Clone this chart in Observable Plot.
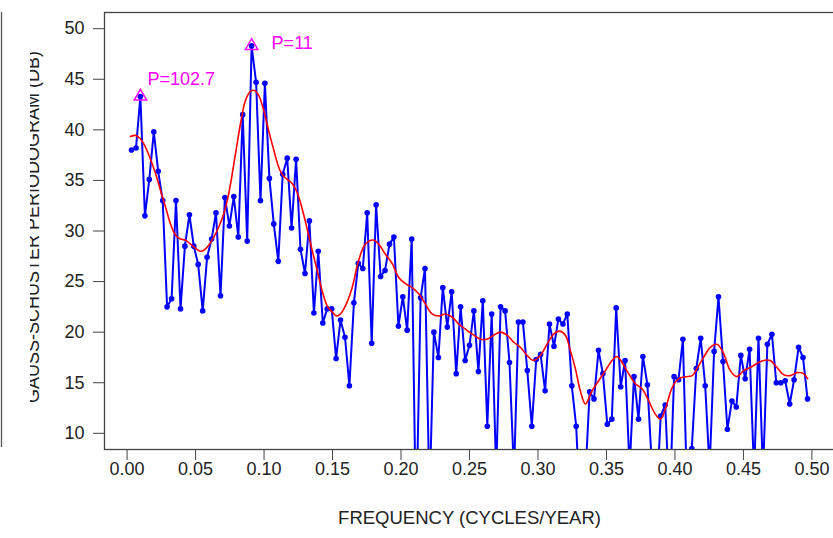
<!DOCTYPE html>
<html>
<head>
<meta charset="utf-8">
<script src="https://cdn.jsdelivr.net/npm/d3@7"></script>
<script src="https://cdn.jsdelivr.net/npm/@observablehq/plot@0.6"></script>
<style>
  html, body { margin: 0; padding: 0; background: #fff; overflow: hidden; }
  #chart svg { display: block; }
</style>
</head>
<body>
<div id="chart"></div>
<script>
// Fourier frequencies (cycles/year) of a 308-year annual series, k = 1..153
const frequency = [
  0.0032, 0.0065, 0.0097, 0.0130, 0.0162, 0.0195, 0.0227, 0.0260, 0.0292, 0.0325,
  0.0357, 0.0390, 0.0422, 0.0455, 0.0487, 0.0519, 0.0552, 0.0584, 0.0617, 0.0649,
  0.0682, 0.0714, 0.0747, 0.0779, 0.0812, 0.0844, 0.0877, 0.0909, 0.0942, 0.0974,
  0.1006, 0.1039, 0.1071, 0.1104, 0.1136, 0.1169, 0.1201, 0.1234, 0.1266, 0.1299,
  0.1331, 0.1364, 0.1396, 0.1429, 0.1461, 0.1494, 0.1526, 0.1558, 0.1591, 0.1623,
  0.1656, 0.1688, 0.1721, 0.1753, 0.1786, 0.1818, 0.1851, 0.1883, 0.1916, 0.1948,
  0.1981, 0.2013, 0.2045, 0.2078, 0.2110, 0.2143, 0.2175, 0.2208, 0.2240, 0.2273,
  0.2305, 0.2338, 0.2370, 0.2403, 0.2435, 0.2468, 0.2500, 0.2532, 0.2565, 0.2597,
  0.2630, 0.2662, 0.2695, 0.2727, 0.2760, 0.2792, 0.2825, 0.2857, 0.2890, 0.2922,
  0.2955, 0.2987, 0.3019, 0.3052, 0.3084, 0.3117, 0.3149, 0.3182, 0.3214, 0.3247,
  0.3279, 0.3312, 0.3344, 0.3377, 0.3409, 0.3442, 0.3474, 0.3506, 0.3539, 0.3571,
  0.3604, 0.3636, 0.3669, 0.3701, 0.3734, 0.3766, 0.3799, 0.3831, 0.3864, 0.3896,
  0.3929, 0.3961, 0.3994, 0.4026, 0.4058, 0.4091, 0.4123, 0.4156, 0.4188, 0.4221,
  0.4253, 0.4286, 0.4318, 0.4351, 0.4383, 0.4416, 0.4448, 0.4481, 0.4513, 0.4545,
  0.4578, 0.4610, 0.4643, 0.4675, 0.4708, 0.4740, 0.4773, 0.4805, 0.4838, 0.4870,
  0.4903, 0.4935, 0.4968
];

// Raw periodogram ordinates (dB)
const periodogramDb = [
  38.0, 38.2, 43.3, 31.5, 35.1, 39.8, 35.9, 33.0, 22.5, 23.3,
  33.0, 22.3, 28.5, 31.6, 28.5, 26.7, 22.1, 27.4, 29.2, 31.8,
  23.6, 33.3, 30.5, 33.4, 29.4, 41.5, 29.0, 48.3, 44.7, 33.0,
  44.6, 35.2, 30.7, 27.0, 35.6, 37.2, 30.3, 37.1, 28.2, 25.8,
  31.0, 21.9, 28.0, 20.9, 22.3, 22.3, 17.4, 21.2, 19.5, 14.7,
  22.9, 26.8, 26.3, 31.8, 18.9, 32.6, 25.5, 26.1, 28.7, 29.4,
  20.6, 23.5, 20.2, 29.2, 0.5, 23.4, 26.3, 3.5, 20.0, 17.5,
  24.4, 20.5, 24.0, 15.9, 22.5, 17.2, 18.7, 22.1, 16.1, 23.1,
  10.7, 21.8, 6.0, 22.5, 22.1, 17.0, 6.0, 21.0, 21.0, 16.2,
  10.7, 17.3, 17.8, 14.2, 20.8, 18.6, 21.3, 20.8, 21.8, 14.7,
  10.7, 1.0, 5.0, 14.1, 13.4, 18.2, 15.9, 10.9, 11.4, 22.4,
  14.6, 17.2, 6.5, 15.6, 11.4, 17.6, 14.8, 7.0, 3.0, 11.7,
  12.8, 3.0, 15.6, 15.3, 19.3, 3.0, 8.5, 16.4, 19.4, 14.7,
  6.5, 18.1, 23.5, 17.1, 10.4, 13.2, 12.6, 17.7, 15.4, 18.3,
  6.0, 19.4, 6.0, 18.8, 19.8, 15.0, 15.0, 15.2, 12.9, 15.3,
  18.5, 17.5, 13.4
];

// Smoothed spectrum (dB)
const smoothFrequency = [
  0.0025, 0.0061, 0.0098, 0.0134, 0.0171, 0.0207, 0.0244, 0.0280, 0.0317, 0.0353,
  0.0390, 0.0426, 0.0463, 0.0499, 0.0536, 0.0560, 0.0596, 0.0633, 0.0669, 0.0706,
  0.0742, 0.0791, 0.0828, 0.0864, 0.0901, 0.0930, 0.0961, 0.0998, 0.1034, 0.1071,
  0.1107, 0.1132, 0.1169, 0.1205, 0.1242, 0.1278, 0.1315, 0.1351, 0.1388, 0.1424,
  0.1461, 0.1497, 0.1528, 0.1558, 0.1594, 0.1643, 0.1691, 0.1740, 0.1801, 0.1837,
  0.1886, 0.1935, 0.1983, 0.2032, 0.2081, 0.2129, 0.2178, 0.2227, 0.2275, 0.2324,
  0.2373, 0.2421, 0.2470, 0.2531, 0.2580, 0.2628, 0.2677, 0.2726, 0.2774, 0.2823,
  0.2872, 0.2920, 0.2969, 0.3018, 0.3066, 0.3115, 0.3158, 0.3200, 0.3236, 0.3273,
  0.3309, 0.3346, 0.3395, 0.3443, 0.3492, 0.3541, 0.3577, 0.3614, 0.3662, 0.3711,
  0.3760, 0.3808, 0.3857, 0.3893, 0.3930, 0.3979, 0.4027, 0.4076, 0.4125, 0.4161,
  0.4209, 0.4258, 0.4307, 0.4355, 0.4404, 0.4453, 0.4501, 0.4550, 0.4599, 0.4647,
  0.4696, 0.4745, 0.4793, 0.4842, 0.4891, 0.4939, 0.4969
];
const smoothDb = [
  39.35, 39.45, 39.1, 38.3, 37.1, 35.7, 34.0, 32.4, 30.7, 29.6,
  29.2, 29.1, 28.7, 28.3, 28.0, 28.1, 28.6, 29.4, 30.4, 31.7,
  33.7, 37.6, 40.6, 42.9, 43.8, 43.9, 43.4, 41.9, 39.9, 38.0,
  36.3, 35.6, 35.1, 34.7, 33.8, 32.2, 30.2, 28.1, 26.1, 24.1,
  22.6, 22.0, 21.6, 21.8, 22.6, 24.4, 27.1, 28.7, 29.1, 28.7,
  27.7, 26.8, 25.4, 24.8, 24.4, 23.8, 22.8, 21.8, 21.6, 21.8,
  21.5, 20.8, 20.3, 19.7, 19.3, 19.3, 19.7, 20.0, 19.7, 19.0,
  18.5, 17.7, 17.2, 17.7, 18.8, 19.8, 20.1, 19.7, 18.2, 16.4,
  14.2, 12.9, 14.2, 15.2, 16.2, 17.2, 17.6, 17.0, 15.9, 14.9,
  14.4, 13.2, 11.9, 11.4, 12.4, 14.5, 15.4, 15.6, 15.7, 16.4,
  17.5, 18.5, 18.8, 17.9, 16.2, 15.6, 16.2, 16.5, 16.9, 17.2,
  17.2, 16.5, 15.8, 15.7, 16.0, 15.9, 15.4
];

// Periods (years) of the marked spectral peaks
const peakPeriods = [102.7, 11];

const xTicks = [0, 0.05, 0.10, 0.15, 0.20, 0.25, 0.30, 0.35, 0.40, 0.45, 0.50];
const yTicks = [10, 15, 20, 25, 30, 35, 40, 45, 50];
const xTitle = "FREQUENCY (CYCLES/YEAR)";
const yTitle = "GAUSS-SCHUSTER PERIODOGRAM (DB)";

const spectrum = frequency.map((f, i) => ({f, db: periodogramDb[i]}));
const smooth = smoothFrequency.map((f, i) => ({f, db: smoothDb[i]}));
const peaks = peakPeriods.map(p => {
  const i = d3.leastIndex(frequency, g => Math.abs(g - 1 / p));
  return {f: 1 / p, db: periodogramDb[i], label: `P=${p}`};
});

const font = "'Liberation Sans', Arial, Helvetica, sans-serif";
const ink = "#222";
const blue = "#0000ff";
const magenta = "#ff00ff";

const chart = Plot.plot({
  width: 833,
  height: 538,
  marginLeft: 104,
  marginRight: -1,
  marginTop: 12,
  marginBottom: 89,
  style: {fontFamily: font, fontSize: "18px", color: ink, background: "#fff"},
  x: {domain: [-0.0165, 0.5165]},
  y: {domain: [8.4, 51.6]},
  marks: [
    Plot.axisY({ticks: yTicks, tickSize: 11, tickPadding: 9, label: null, stroke: "#444", fill: ink}),
    Plot.axisX({ticks: xTicks, tickSize: 11, tickPadding: 2, tickFormat: d3.format(".2f"), label: null, stroke: "#444", fill: ink}),
    Plot.text([xTitle], {frameAnchor: "bottom", dy: 74, text: d => d, fill: ink, fontSize: 18.5}),
    Plot.text([yTitle], {frameAnchor: "left", dx: -66, dy: -4, rotate: -90, textAnchor: "middle", lineAnchor: "bottom", text: d => d, fill: ink}),
    Plot.line(spectrum, {x: "f", y: "db", stroke: blue, strokeWidth: 2, clip: true}),
    Plot.dot(spectrum, {x: "f", y: "db", r: 2.8, fill: blue, clip: true}),
    Plot.line(smooth, {x: "f", y: "db", stroke: "#ff0000", strokeWidth: 1.6, curve: "catmull-rom", clip: true}),
    Plot.dot(peaks, {x: "f", y: "db", symbol: "triangle", r: 4.6, stroke: magenta, strokeWidth: 1.5, fill: "none"}),
    Plot.text(peaks.slice(0, 1), {x: "f", y: "db", text: "label", textAnchor: "start", dx: 7, dy: -17, fill: magenta}),
    Plot.text(peaks.slice(1), {x: "f", y: "db", text: "label", textAnchor: "start", dx: 20, dy: -3, fill: magenta}),
    Plot.frame({stroke: "#444", strokeWidth: 1.3})
  ]
});

document.getElementById("chart").appendChild(chart);

// The vertical title is cut at the left edge of the figure; an outer border line sits at the far left.
const svg = d3.select(chart);
svg.append("defs").append("clipPath").attr("id", "ytitle-clip")
  .append("rect").attr("x", 30).attr("y", 0).attr("width", 803).attr("height", 538);
const titleGroup = svg.selectAll("text")
  .filter(function () { return this.textContent === yTitle; })
  .node().parentNode;
svg.append("g").attr("clip-path", "url(#ytitle-clip)").node().appendChild(titleGroup);
svg.append("line")
  .attr("x1", 1.5).attr("x2", 1.5).attr("y1", 12).attr("y2", 447)
  .attr("stroke", "#555").attr("stroke-width", 1.3);
</script>
</body>
</html>
